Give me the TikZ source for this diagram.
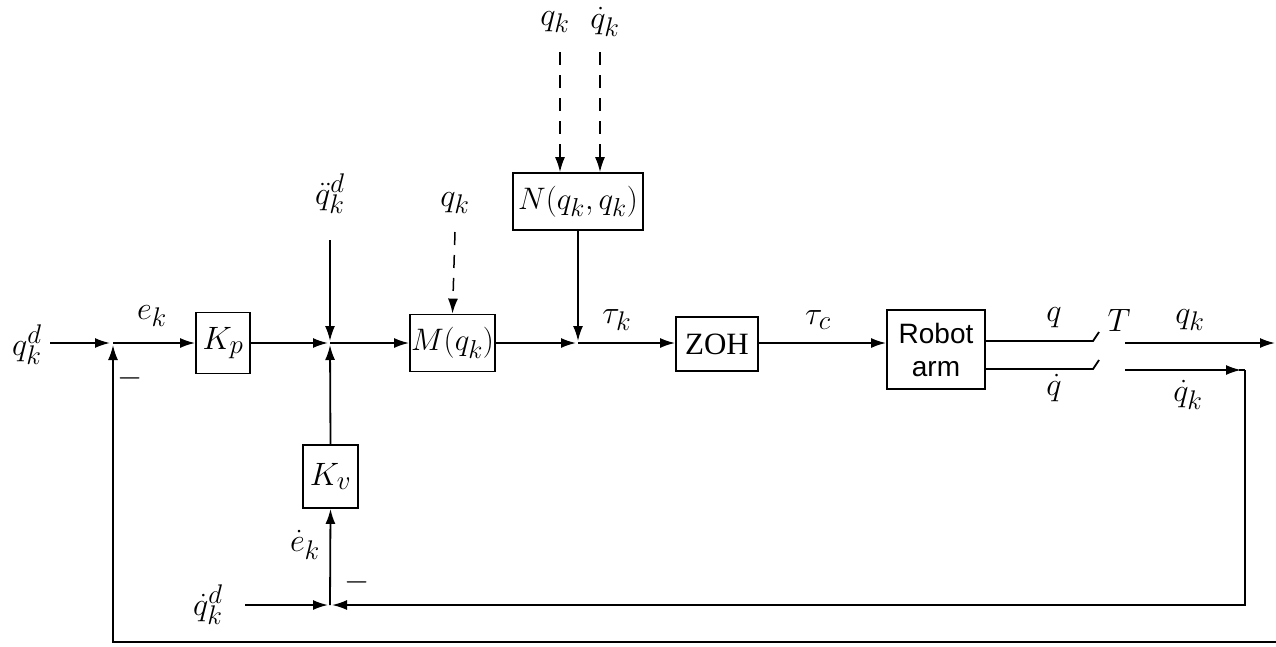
\documentclass[tikz,border=0pt]{standalone}
\usepackage{fontspec}
\setmainfont{Liberation Serif}
\newfontfamily\robotfont{Liberation Sans}
\usetikzlibrary{arrows.meta}
\newcommand\mm[2][1.3]{\scalebox{#1}{$#2$}}
\begin{document}
\begin{tikzpicture}[x=1pt,y=-1pt,
  font=\fontsize{24.88}{30}\selectfont,
  blk/.style={draw,line width=1.8pt,inner sep=0pt},
  sig/.style={line width=1.8pt,-{Latex[length=15pt,width=10pt]}},
  ln/.style={line width=1.8pt},
  dsh/.style={line width=1.5pt,dash pattern=on 13pt off 10pt,-{Latex[length=15pt,width=10pt]}},
  lbl/.style={inner sep=0pt}]
\useasboundingbox (0,0) rectangle (1276,646);
% blocks
\node[blk,minimum width=54pt,minimum height=61pt] (Kp) at (223,343) {\mm{K_p}};
\node[blk,minimum width=85pt,minimum height=57pt] (M) at (452.5,343) {\mm[1.25]{M(q_k)}};
\node[blk,minimum width=130pt,minimum height=57pt] (N) at (578,201.5) {\mm[1.25]{N(q_k, q_k)}};
\node[blk,minimum width=82pt,minimum height=54pt,font=\fontsize{31}{34}\selectfont] (Z) at (717,344) {ZOH};
\node[blk,minimum width=98pt,minimum height=79pt,align=center,font=\robotfont\fontsize{28}{33}\selectfont] (R) at (936,349.5) {Robot\\arm};
\node[blk,minimum width=55pt,minimum height=63pt] (Kv) at (330.5,476.5) {\mm{K_v}};
% junctions and ends
\coordinate (s1) at (113,343);
\coordinate (s2) at (330,343);
\coordinate (s3) at (578,343);
\coordinate (s4) at (330,605);
\coordinate (qdin) at (50,343);
\coordinate (qddin) at (330,240);
\coordinate (qdotdin) at (245,605);
\coordinate (fbR) at (1276,642);
\coordinate (fbL) at (113,642);
\coordinate (qin) at (455,232);
\coordinate (nq) at (560,52);
\coordinate (nqd) at (600,52);
\coordinate (qend) at (1093,341);
\coordinate (qdend) at (1093,369);
\coordinate (qkst) at (1125,343);
\coordinate (qkout) at (1275,343);
\coordinate (qdkst) at (1125,370);
\coordinate (corner) at (1245,370);
% labels
\node[lbl] (Lqd) at (27,345) {\mm{q_k^d}};
\node[lbl] (Le) at (152,316) {\mm{e_k}};
\node[lbl] (Lm1) at (130,378) {\mm{-}};
\node[lbl] (Lqdd) at (330,194) {\mm{\ddot q_k^d}};
\node[lbl] (Lq1) at (455,203) {\mm{q_k}};
\node[lbl] (Lq2) at (555,22) {\mm{q_k}};
\node[lbl] (Lq3) at (605,22) {\mm{\dot q_k}};
\node[lbl] (Ltk) at (617,320) {\mm{\tau_k}};
\node[lbl] (Ltc) at (818,320) {\mm{\tau_c}};
\node[lbl] (Lq) at (1054,318) {\mm{q}};
\node[lbl] (Lqdot) at (1054,388) {\mm{\dot q}};
\node[lbl] (LT) at (1119,320) {\mm{T}};
\node[lbl] (Lqk) at (1190,320) {\mm{q_k}};
\node[lbl] (Lqdk) at (1188,395) {\mm{\dot q_k}};
\node[lbl] (Led) at (305,545) {\mm{\dot e_k}};
\node[lbl] (Lm2) at (357,582) {\mm{-}};
\node[lbl] (Lqdotd) at (208,605) {\mm{\dot q_k^d}};
% connectors
\draw[sig,shorten >=3pt] (qdin) -- (s1);
\draw[sig] (s1) -- (Kp.west);
\draw[sig,shorten >=2pt] (fbR) -- (fbL) -- (s1);
\draw[sig,shorten >=2pt] (Kp.east) -- (s2);
\draw[sig,shorten >=2pt] (qddin) -- (s2);
\draw[sig,shorten >=2pt] (Kv.north) -- (s2);
\draw[sig] (s2) -- (M.west);
\draw[dsh] (qin) -- (M.north);
\draw[sig,shorten >=2pt] (M.east) -- (s3);
\draw[sig,shorten >=2pt] (N.south) -- (s3);
\draw[sig] (s3) -- (s3 -| Z.west);
\draw[dsh] (nq) -- (nq |- N.north);
\draw[dsh] (nqd) -- (nqd |- N.north);
\draw[sig] (s3 -| Z.east) -- (s3 -| R.west);
\draw[ln] (R.east |- qend) -- (qend) -- ++(6,-9);
\draw[ln] (R.east |- qdend) -- (qdend) -- ++(6,-9);
\draw[sig] (qkst) -- (qkout);
\draw[sig] (qdkst) -- ([xshift=-4pt]corner);
\draw[ln] ([xshift=-6pt]corner) -- (corner);
\draw[sig,shorten >=2pt] (corner) |- (s4);
\draw[sig,shorten >=2pt] (qdotdin) -- (s4);
\draw[sig] (s4) -- (Kv.south);
\end{tikzpicture}
\end{document}
